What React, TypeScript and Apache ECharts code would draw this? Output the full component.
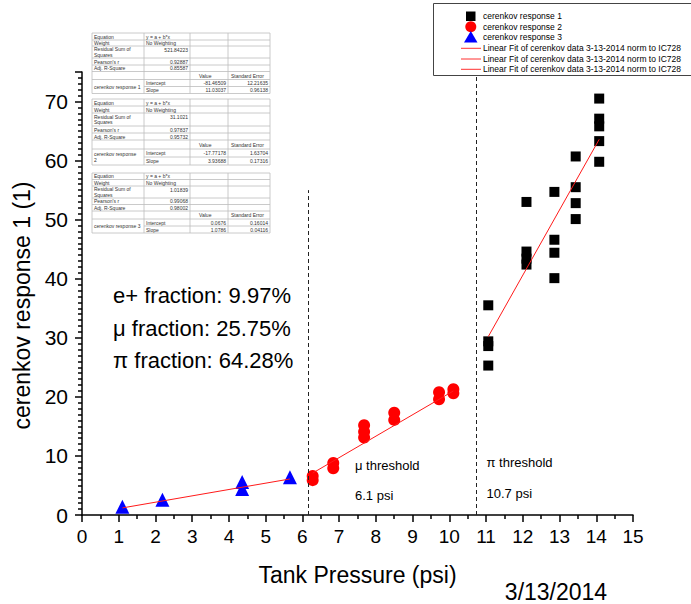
import React, { useEffect, useRef } from "react";
import * as echarts from "echarts";

// ---------- data ----------
const resp1X = [11.06, 11.06, 11.06, 11.06, 12.1, 12.1, 12.1, 12.1, 12.86, 12.86, 12.86, 12.86, 13.44, 13.44, 13.44, 13.44, 14.08, 14.08, 14.08, 14.08, 14.08];
const resp1Y = [35.5, 29.4, 28.6, 25.3, 53.0, 44.6, 43.4, 42.4, 54.7, 46.6, 44.4, 40.1, 60.7, 55.5, 52.8, 50.1, 70.5, 67.1, 65.8, 63.3, 59.8];

const resp2X = [6.28, 6.28, 6.84, 6.84, 7.68, 7.68, 7.68, 8.5, 8.5, 9.72, 9.72, 10.11, 10.11];
const resp2Y = [6.6, 5.9, 8.8, 7.9, 15.2, 14.1, 13.1, 17.3, 16.1, 20.8, 19.6, 21.3, 20.6];

const resp3X = [1.1, 2.19, 4.36, 4.36, 5.66];
const resp3Y = [1.4, 2.6, 5.6, 4.4, 6.4];

const fit1X = [11.06, 14.08];
const fit1Y = [30.2, 63.6];
const fit2X = [6.28, 10.11];
const fit2Y = [7.1, 21.0];
const fit3X = [1.1, 5.66];
const fit3Y = [1.2, 6.1];

const thresholdX = [6.16, 10.73];
const thresholdTop = [55, 74.5];

const seriesNames = ["cerenkov response 1", "cerenkov response 2", "cerenkov response 3"];
const fitName = "Linear Fit of cerenkov data 3-13-2014 norm to IC728";

const fractionLabels = ["e+ fraction: 9.97%", "\u03bc fraction: 25.75%", "\u03c0 fraction: 64.28%"];
const thresholdLabels = ["\u03bc threshold", "\u03c0 threshold"];
const thresholdPsi = ["6.1 psi", "10.7 psi"];
const dateLabel = "3/13/2014";

// fit statistic tables
const tableNames = ["cerenkov response 1", "cerenkov response\n2", "cerenkov response 3"];
const tableRSS = ["521.84223", "31.1021", "1.01839"];
const tablePearson = ["0.92887", "0.97837", "0.99068"];
const tableAdjR2 = ["0.85587", "0.95732", "0.98002"];
const tableIntercept = ["-81.46509", "-17.77178", "0.0676"];
const tableInterceptErr = ["12.21635", "1.63704", "0.16014"];
const tableSlope = ["11.03037", "3.93688", "1.0786"];
const tableSlopeErr = ["0.96138", "0.17316", "0.04116"];

const FONT = "'Liberation Sans', Arial, sans-serif";

const pairs = (xs: number[], ys: number[]) => xs.map((x, i) => [x, ys[i]]);

function buildTable(i: number, top: number, rowH: number[]) {
  const cols = [92, 144, 190, 228, 270];
  const els: any[] = [];
  const total = rowH.reduce((a, b) => a + b, 0);
  const border = "#bdbdbd";
  const tc = "#333";
  const fs = 5;
  els.push({
    type: "rect",
    shape: { x: cols[0], y: top, width: cols[4] - cols[0], height: total },
    style: { fill: "#fff", stroke: border, lineWidth: 0.8 },
  });
  const ys: number[] = [top];
  rowH.forEach((h) => ys.push(ys[ys.length - 1] + h));
  for (let r = 1; r < rowH.length; r++) {
    const x1 = r === 7 ? cols[1] : cols[0];
    els.push({
      type: "line",
      shape: { x1, y1: ys[r], x2: cols[4], y2: ys[r] },
      style: { stroke: border, lineWidth: 0.8 },
    });
  }
  for (let c = 1; c < 4; c++) {
    els.push({
      type: "line",
      shape: { x1: cols[c], y1: top, x2: cols[c], y2: top + total },
      style: { stroke: border, lineWidth: 0.8 },
    });
  }
  const mid = (r: number) => (ys[r] + ys[r + 1]) / 2;
  const txt = (text: string, x: number, y: number, align = "left") =>
    els.push({
      type: "text",
      x,
      y,
      style: { text, fontSize: fs, fontFamily: FONT, fill: tc, align, verticalAlign: "middle", lineHeight: 5.5 },
    });
  txt("Equation", cols[0] + 2, mid(0));
  txt("y = a + b*x", cols[1] + 2, mid(0));
  txt("Weight", cols[0] + 2, mid(1));
  txt("No Weighting", cols[1] + 2, mid(1));
  txt("Residual Sum of\nSquares", cols[0] + 2, mid(2));
  txt(tableRSS[i], cols[2] - 2, ys[2] + 3.5, "right");
  txt("Pearson's r", cols[0] + 2, mid(3));
  txt(tablePearson[i], cols[2] - 2, mid(3), "right");
  txt("Adj. R-Square", cols[0] + 2, mid(4));
  txt(tableAdjR2[i], cols[2] - 2, mid(4), "right");
  txt("Value", cols[2] + 9, mid(5));
  txt("Standard Error", cols[3] + 3, mid(5));
  txt(tableNames[i], cols[0] + 2, ys[7]);
  txt("Intercept", cols[1] + 2, mid(6));
  txt(tableIntercept[i], cols[3] - 2, mid(6), "right");
  txt(tableInterceptErr[i], cols[4] - 2, mid(6), "right");
  txt("Slope", cols[1] + 2, mid(7));
  txt(tableSlope[i], cols[3] - 2, mid(7), "right");
  txt(tableSlopeErr[i], cols[4] - 2, mid(7), "right");
  return els;
}

function buildLegend() {
  const els: any[] = [];
  els.push({
    type: "rect",
    shape: { x: 433.5, y: 3.5, width: 270, height: 72 },
    style: { fill: "#fff", stroke: "#444", lineWidth: 1 },
  });
  const rows = [16, 26.7, 37, 48.3, 59, 69.3];
  els.push({ type: "rect", shape: { x: 466, y: rows[0] - 4.5, width: 9.5, height: 9.5 }, style: { fill: "#000" } });
  els.push({ type: "circle", shape: { cx: 470.8, cy: rows[1], r: 5.5 }, style: { fill: "#ff0000" } });
  els.push({
    type: "polygon",
    shape: { points: [[464, rows[2] + 5.5], [477.5, rows[2] + 5.5], [470.8, rows[2] - 6]] },
    style: { fill: "#0000ff" },
  });
  for (let k = 3; k < 6; k++) {
    els.push({ type: "line", shape: { x1: 461, y1: rows[k], x2: 481, y2: rows[k] }, style: { stroke: "#ff3030", lineWidth: 1 } });
  }
  const labels = [...seriesNames, fitName, fitName, fitName];
  labels.forEach((t, k) =>
    els.push({
      type: "text",
      x: 483,
      y: rows[k],
      style: { text: t, fontSize: 8.5, fontFamily: FONT, fill: "#000", align: "left", verticalAlign: "middle" },
    })
  );
  return els;
}

export default function App() {
  const ref = useRef<HTMLDivElement>(null);
  useEffect(() => {
    if (!ref.current) return;
    const chart = echarts.init(ref.current, null, { renderer: "svg" });
    const axisBlack = { color: "#000", width: 1.5 };
    const graphics: any[] = [
      ...buildTable(0, 33, [7, 6, 12, 7, 6.5, 8, 7, 7]),
      ...buildTable(1, 99, [7, 7, 13, 7, 7, 9, 8, 8]),
      ...buildTable(2, 173, [6.5, 6.5, 12, 6.5, 6.5, 8, 7, 7]),
      ...buildLegend(),
    ];
    const fracY = [295, 328, 360];
    fractionLabels.forEach((t, k) =>
      graphics.push({
        type: "text",
        x: 113,
        y: fracY[k],
        style: { text: t, fontSize: 22, fontFamily: FONT, fill: "#000", verticalAlign: "middle" },
      })
    );
    const thrX = [355, 486.5];
    const thrY = [[465.5, 495.5], [462.5, 493.5]];
    thresholdLabels.forEach((t, k) => {
      graphics.push({
        type: "text",
        x: thrX[k],
        y: thrY[k][0],
        style: { text: t, fontSize: 13, fontFamily: FONT, fill: "#000", verticalAlign: "middle" },
      });
      graphics.push({
        type: "text",
        x: thrX[k],
        y: thrY[k][1],
        style: { text: thresholdPsi[k], fontSize: 13, fontFamily: FONT, fill: "#000", verticalAlign: "middle" },
      });
    });
    graphics.push({
      type: "text",
      x: 556,
      y: 592,
      style: { text: dateLabel, fontSize: 23, fontFamily: FONT, fill: "#000", align: "center", verticalAlign: "middle" },
    });

    const fitLine = (xs: number[], ys: number[]) => ({
      type: "line",
      name: fitName,
      data: pairs(xs, ys),
      symbol: "none",
      z: 5,
      lineStyle: { color: "#ff1a1a", width: 1 },
    });

    chart.setOption({
      animation: false,
      backgroundColor: "#fff",
      textStyle: { fontFamily: FONT },
      grid: { left: 82, right: 58, top: 72, bottom: 89, containLabel: false, outerBoundsMode: "none" },
      xAxis: {
        type: "value",
        min: 0,
        max: 15,
        interval: 1,
        name: "Tank Pressure (psi)",
        nameLocation: "middle",
        nameGap: 48,
        nameTextStyle: { fontSize: 23, color: "#000", fontFamily: FONT },
        axisLine: { onZero: false, lineStyle: axisBlack },
        axisTick: { length: 7, lineStyle: axisBlack },
        minorTick: { show: true, splitNumber: 2, length: 4, lineStyle: axisBlack },
        splitLine: { show: false },
        minorSplitLine: { show: false },
        axisLabel: { fontSize: 19, color: "#000", margin: 12, fontFamily: FONT },
      },
      yAxis: {
        type: "value",
        min: 0,
        max: 75,
        interval: 10,
        name: "cerenkov response 1 (1)",
        nameLocation: "middle",
        nameGap: 38,
        nameTextStyle: { fontSize: 23, color: "#000", fontFamily: FONT, padding: [0, 24, 0, 0] },
        axisLine: { onZero: false, lineStyle: axisBlack },
        axisTick: { length: 7, lineStyle: axisBlack },
        minorTick: { show: true, splitNumber: 10, length: 4, lineStyle: axisBlack },
        splitLine: { show: false },
        minorSplitLine: { show: false },
        axisLabel: { fontSize: 21, color: "#000", margin: 14, fontFamily: FONT, showMaxLabel: false },
      },
      graphic: { elements: graphics },
      series: [
        {
          type: "scatter",
          name: seriesNames[0],
          data: pairs(resp1X, resp1Y),
          symbol: "rect",
          symbolSize: 10,
          itemStyle: { color: "#000", opacity: 1 },
          z: 3,
        },
        {
          type: "scatter",
          name: seriesNames[1],
          data: pairs(resp2X, resp2Y),
          symbol: "circle",
          symbolSize: 12,
          itemStyle: { color: "#ff0000", opacity: 1 },
          z: 3,
        },
        {
          type: "scatter",
          name: seriesNames[2],
          data: pairs(resp3X, resp3Y),
          symbol: "triangle",
          symbolSize: 14,
          itemStyle: { color: "#0000ff", opacity: 1 },
          z: 3,
        },
        fitLine(fit1X, fit1Y),
        fitLine(fit2X, fit2Y),
        fitLine(fit3X, fit3Y),
        {
          type: "line",
          name: "thresholds",
          data: [],
          markLine: {
            symbol: "none",
            silent: true,
            label: { show: false },
            lineStyle: { color: "#222", width: 1, type: [4, 3] },
            data: thresholdX.map((x, k) => [{ coord: [x, 0] }, { coord: [x, thresholdTop[k]] }]),
          },
        },
      ],
    });
    return () => chart.dispose();
  }, []);
  return <div ref={ref} style={{ position: "fixed", left: 0, top: 0, width: 691, height: 604 }} />;
}
